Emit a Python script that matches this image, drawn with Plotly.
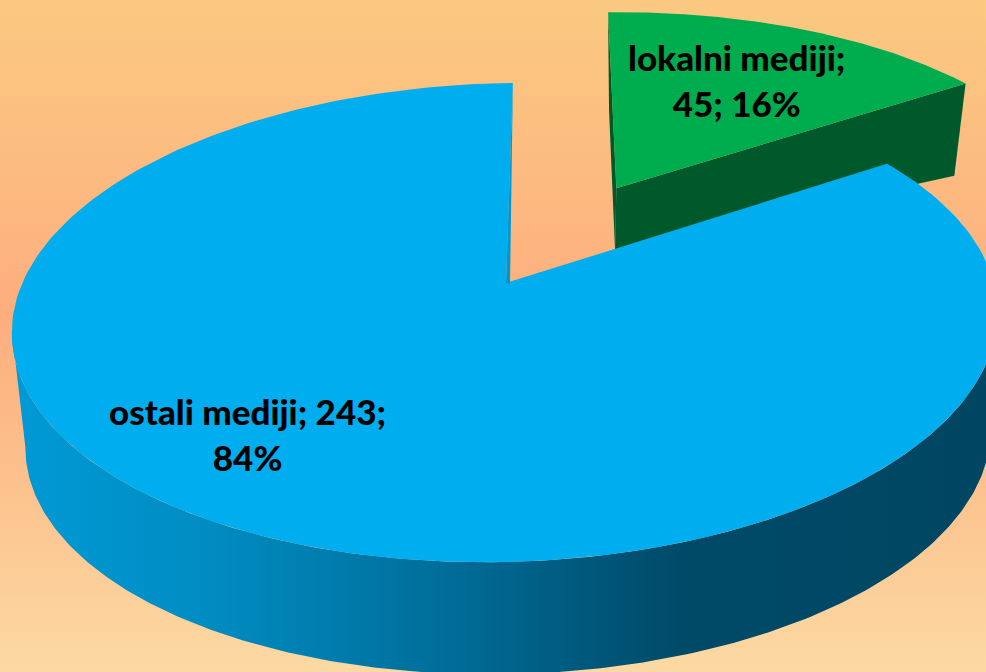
import numpy as np
import plotly.graph_objects as go

categories = ["lokalni mediji", "ostali mediji"]
values = [45, 243]
percent_labels = ["16%", "84%"]
slice_colors = ["#00AD4E", "#00AEEF"]
green_side = "#00592B"
blue_edge = "#0097CE"
# the y axis runs downward, so a vertical fill gradient starts at the bottom of the page
bg_stops = [[0, "#FCD9A3"], [0.3, "#FCC08C"], [0.53, "#FDAD7E"], [0.66, "#FDB680"], [1, "#FAC980"]]
side_stops = [[0, "#009AD6"], [0.2, "#008CC2"], [0.45, "#006C97"], [0.68, "#004A68"], [1, "#004662"]]

W, H = 986, 672
K = 0.165
TILT = 0.012
VIEW_SKEW = np.radians(1.35)  # perspective skew of the slice boundary in the 3D view


def top_map(X, Y):
    d = 1 + K * Y
    x = 506 + (486 * X + 8 * Y) / d
    y = 283 - 233 * Y / d
    return x, y - (x - 506) * TILT


def low_map(X, Y):
    d = 1 + K * Y
    x = 509 + (476 * X + 6 * Y) / d
    y = 400 - 229 * Y / d
    return x, y - (x - 509) * TILT


def green_low(X, Y):
    return 521.6 + 405 * X - 5 * Y, 310 - 139 * Y


def arc(t0, t1, n=240):
    return np.linspace(t0, t1, n)


def poly(fig, x, y, **kw):
    fig.add_trace(go.Scatter(x=list(x) + [x[0]], y=list(y) + [y[0]], mode="lines",
                             fill="toself", line=dict(width=0), hoverinfo="skip",
                             showlegend=False, **kw))


total = sum(values)
split = 2 * np.pi * values[0] / total + VIEW_SKEW
mid = split / 2
EXPLODE = 0.49
ex, ey = EXPLODE * np.sin(mid), EXPLODE * np.cos(mid)

fig = go.Figure()

# background
poly(fig, [0, W, W, 0], [0, 0, H, H], fillgradient=dict(type="vertical", colorscale=bg_stops))

# green slice: side faces then top
t = arc(0, split)
gx, gy = np.sin(t) + ex, np.cos(t) + ey
ax_, ay_ = top_map(ex, ey)
lx_, ly_ = green_low(ex, ey)
tx0, ty0 = top_map(gx[0], gy[0])
lx0, ly0 = green_low(gx[0], gy[0])
tx1, ty1 = top_map(gx[-1], gy[-1])
lx1, ly1 = green_low(gx[-1], gy[-1])
poly(fig, [ax_, tx0, lx0 - 1, lx_], [ay_, ty0, ly0, ly_], fillcolor=green_side)
poly(fig, [ax_, tx1, lx1, lx_], [ay_, ty1, ly1, ly_], fillcolor=green_side)
sx, sy = top_map(gx, gy)
poly(fig, [ax_] + list(sx), [ay_] + list(sy), fillcolor=slice_colors[0])

# blue slice: outer wall, edge face, then top
t = arc(np.radians(100), np.radians(260))
ux, uy = top_map(np.sin(t), np.cos(t))
bx, by = low_map(np.sin(t), np.cos(t))
poly(fig, list(ux) + list(bx[::-1]), list(uy) + list(by[::-1]),
     fillgradient=dict(type="horizontal", colorscale=side_stops))

t = arc(split, 2 * np.pi)
sx, sy = top_map(np.sin(t), np.cos(t))
cx, cy = top_map(0, 0)
poly(fig, [cx] + list(sx), [cy] + list(sy), fillcolor=slice_colors[1])
poly(fig, [cx, sx[-1], cx + 4], [cy, sy[-1], cy + 1], fillcolor=blue_edge)

label_font = dict(family="Lato", size=35, color="black", weight=900)
fig.add_annotation(x=736, y=80, text=f"{categories[0]};<br>{values[0]}; {percent_labels[0]}",
                   showarrow=False, font=label_font)
fig.add_annotation(x=247, y=433.5, text=f"{categories[1]}; {values[1]};<br>{percent_labels[1]}",
                   showarrow=False, font=label_font)

fig.update_layout(width=W, height=H, margin=dict(l=0, r=0, t=0, b=0), paper_bgcolor="#FCC08C",
                  plot_bgcolor="rgba(0,0,0,0)", showlegend=False,
                  xaxis=dict(visible=False, range=[0, W], fixedrange=True),
                  yaxis=dict(visible=False, range=[H, 0], fixedrange=True))
fig.write_html("out.html", config={"displayModeBar": False},
               post_script="document.body.style.margin='0';document.body.style.overflow='hidden';")
